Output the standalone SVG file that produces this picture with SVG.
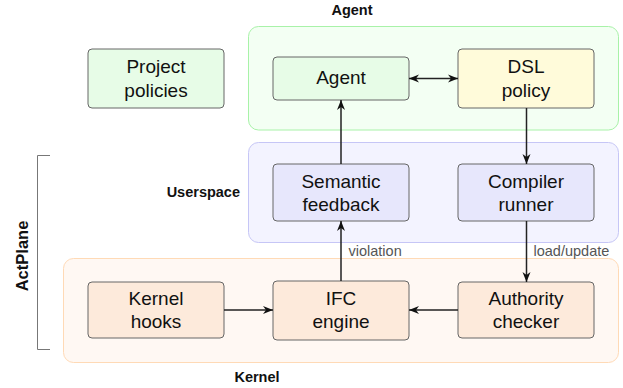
<svg xmlns="http://www.w3.org/2000/svg" width="623" height="388" viewBox="0 0 623 388">
<defs>
<marker id="arr" viewBox="0 0 10 10" refX="10" refY="5" markerWidth="10" markerHeight="10" markerUnits="userSpaceOnUse" orient="auto-start-reverse">
<path d="M0,1 L10,5 L0,9 L3,5 Z" fill="#111"/>
</marker>
</defs>
<style>
.grp{stroke-width:1}
.node{stroke:#666;stroke-width:1}
.t{font-family:"Liberation Sans",Arial,sans-serif;font-size:19px;fill:#111;text-anchor:middle}
.lab{font-family:"Liberation Sans",Arial,sans-serif;font-size:14.5px;font-weight:bold;fill:#111}
.el{font-family:"Liberation Sans",Arial,sans-serif;font-size:14.5px;fill:#555}
.c{stroke:#222;stroke-width:1.5;fill:none}
</style>
<g id="groups">
<rect id="agent-group" class="grp" x="248.5" y="26.5" width="370" height="103.5" rx="10" fill="#f3fff3" stroke="#a8f2a8"/>
<rect id="userspace-group" class="grp" x="248.5" y="142.5" width="370" height="100" rx="10" fill="#f3f3ff" stroke="#c6c6f6"/>
<rect id="kernel-group" class="grp" x="63.5" y="258.5" width="555" height="104" rx="10" fill="#fff8f3" stroke="#ffdab6"/>
</g>
<g id="labels">
<text class="lab" x="352" y="15" text-anchor="middle">Agent</text>
<text class="lab" x="240" y="197" text-anchor="end">Userspace</text>
<text class="lab" x="257" y="382" text-anchor="middle">Kernel</text>
<text class="lab" style="font-size:16.5px" transform="translate(28 256) rotate(-90)" text-anchor="middle">ActPlane</text>
<path d="M50,155.5 H37.5 V349.5 H50" fill="none" stroke="#777" stroke-width="1"/>
</g>
<g id="project-policies">
<rect class="node" x="88" y="49" width="136" height="59" rx="4" fill="#e7fce7"/>
<text class="t" x="156" y="73">Project</text>
<text class="t" x="156" y="97">policies</text>
</g>
<g id="agent">
<rect class="node" x="273" y="57" width="136" height="43" rx="4" fill="#e7fce7"/>
<text class="t" x="341" y="84">Agent</text>
</g>
<g id="dsl-policy">
<rect class="node" x="458" y="49" width="136" height="59" rx="4" fill="#fffbda"/>
<text class="t" x="526" y="73">DSL</text>
<text class="t" x="526" y="97">policy</text>
</g>
<g id="semantic-feedback">
<rect class="node" x="273" y="164" width="136" height="57" rx="4" fill="#e7e7fc"/>
<text class="t" x="341" y="188">Semantic</text>
<text class="t" x="341" y="211">feedback</text>
</g>
<g id="compiler-runner">
<rect class="node" x="458" y="164" width="136" height="57" rx="4" fill="#e7e7fc"/>
<text class="t" x="526" y="188">Compiler</text>
<text class="t" x="526" y="211">runner</text>
</g>
<g id="kernel-hooks">
<rect class="node" x="88" y="282" width="136" height="56" rx="4" fill="#fdeadb"/>
<text class="t" x="156" y="305">Kernel</text>
<text class="t" x="156" y="328">hooks</text>
</g>
<g id="ifc-engine">
<rect class="node" x="273" y="281" width="136" height="59" rx="4" fill="#fdeadb"/>
<text class="t" x="341" y="305">IFC</text>
<text class="t" x="341" y="328">engine</text>
</g>
<g id="authority-checker">
<rect class="node" x="458" y="282" width="136" height="56" rx="4" fill="#fdeadb"/>
<text class="t" x="526" y="305">Authority</text>
<text class="t" x="526" y="328">checker</text>
</g>
<g id="connectors">
<path class="c" d="M409,78.5 H458" marker-start="url(#arr)" marker-end="url(#arr)"/>
<path class="c" d="M341,164 V100" marker-end="url(#arr)"/>
<path class="c" d="M526.5,108 V164" marker-end="url(#arr)"/>
<path class="c" d="M341,281 V221" marker-end="url(#arr)"/>
<path class="c" d="M526.5,221 V282" marker-end="url(#arr)"/>
<path class="c" d="M224,310 H273" marker-end="url(#arr)"/>
<path class="c" d="M458,310 H409" marker-end="url(#arr)"/>
<text class="el" x="348.5" y="256">violation</text>
<text class="el" x="533.5" y="256">load/update</text>
</g>
</svg>
